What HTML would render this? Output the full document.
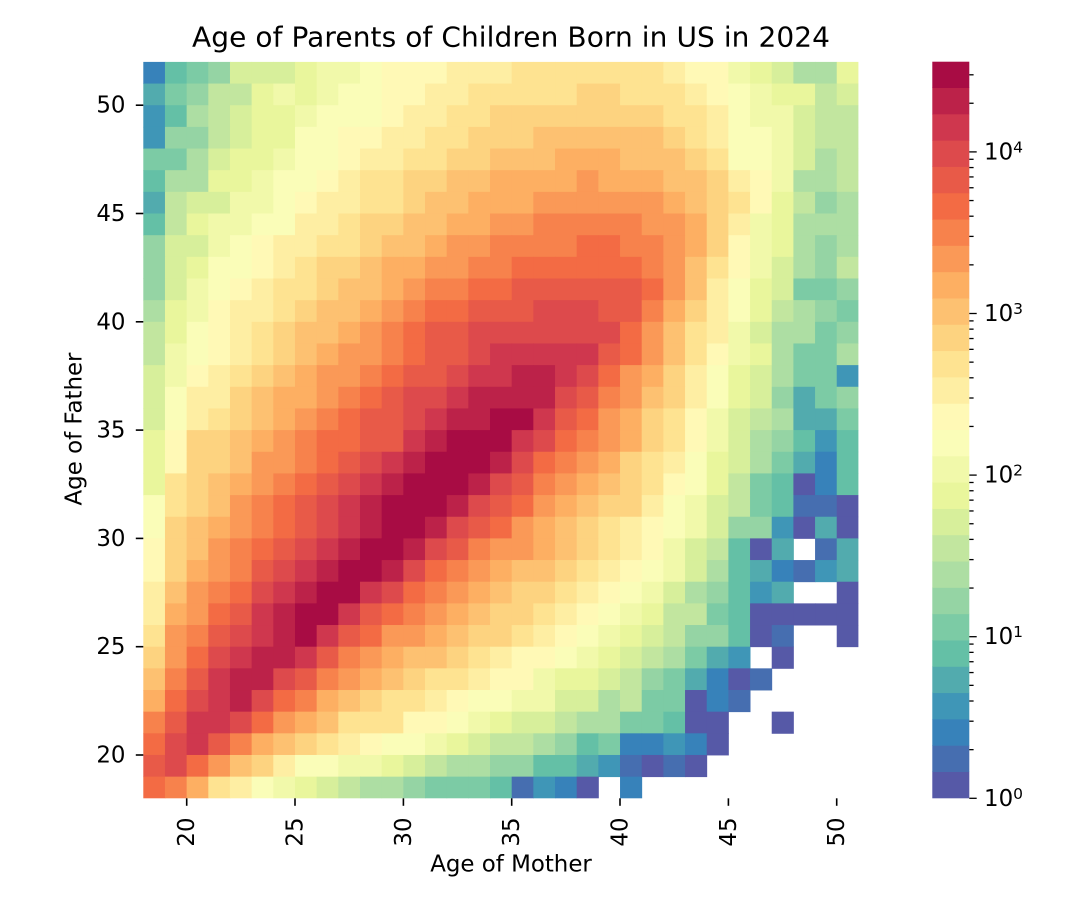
<!DOCTYPE html>
<html>
<head>
<meta charset="utf-8">
<style>
  html,body{margin:0;padding:0;background:#ffffff;}
  svg{display:block;}
  text{font-family:"DejaVu Sans","Liberation Sans",sans-serif;fill:#000;}
</style>
</head>
<body>
<svg id="chart" width="1080" height="900" viewBox="0 0 1080 900" xmlns="http://www.w3.org/2000/svg">
  <rect x="0" y="0" width="1080" height="900" fill="#ffffff"/>
  <g id="heat"></g>
  <g id="cbar"></g>

  <!-- title -->
  <text x="511" y="46.5" font-size="28" text-anchor="middle" textLength="638" lengthAdjust="spacing">Age of Parents of Children Born in US in 2024</text>

  <!-- x ticks -->
  <g stroke="#000" stroke-width="1.6">
    <line x1="186.7" y1="798.3" x2="186.7" y2="805.8"/>
    <line x1="295.0" y1="798.3" x2="295.0" y2="805.8"/>
    <line x1="403.4" y1="798.3" x2="403.4" y2="805.8"/>
    <line x1="511.7" y1="798.3" x2="511.7" y2="805.8"/>
    <line x1="620.0" y1="798.3" x2="620.0" y2="805.8"/>
    <line x1="728.4" y1="798.3" x2="728.4" y2="805.8"/>
    <line x1="836.7" y1="798.3" x2="836.7" y2="805.8"/>
  </g>
  <g font-size="22.9" text-anchor="middle">
    <text transform="translate(194.2,832) rotate(-90)">20</text>
    <text transform="translate(302.5,832) rotate(-90)">25</text>
    <text transform="translate(410.9,832) rotate(-90)">30</text>
    <text transform="translate(519.2,832) rotate(-90)">35</text>
    <text transform="translate(627.5,832) rotate(-90)">40</text>
    <text transform="translate(735.9,832) rotate(-90)">45</text>
    <text transform="translate(844.2,832) rotate(-90)">50</text>
  </g>
  <text x="511" y="871.5" font-size="22.9" text-anchor="middle">Age of Mother</text>

  <!-- y ticks -->
  <g stroke="#000" stroke-width="1.6">
    <line x1="135.8" y1="755.0" x2="143.3" y2="755.0"/>
    <line x1="135.8" y1="646.7" x2="143.3" y2="646.7"/>
    <line x1="135.8" y1="538.4" x2="143.3" y2="538.4"/>
    <line x1="135.8" y1="430.1" x2="143.3" y2="430.1"/>
    <line x1="135.8" y1="321.8" x2="143.3" y2="321.8"/>
    <line x1="135.8" y1="213.5" x2="143.3" y2="213.5"/>
    <line x1="135.8" y1="105.2" x2="143.3" y2="105.2"/>
  </g>
  <g font-size="22.9" text-anchor="end">
    <text x="125.5" y="762.5">20</text>
    <text x="125.5" y="654.2">25</text>
    <text x="125.5" y="545.9">30</text>
    <text x="125.5" y="437.6">35</text>
    <text x="125.5" y="329.3">40</text>
    <text x="125.5" y="221.0">45</text>
    <text x="125.5" y="112.7">50</text>
  </g>
  <text transform="translate(81.5,429) rotate(-90)" font-size="22.9" text-anchor="middle">Age of Father</text>

  <!-- colorbar ticks -->
  <g id="cbticks" stroke="#000" stroke-width="1.3"></g>
  <g font-size="22.9">
    <text x="984" y="805.8">10<tspan font-size="15.5" dy="-7">0</tspan></text>
    <text x="984" y="644.2">10<tspan font-size="15.5" dy="-7">1</tspan></text>
    <text x="984" y="482.6">10<tspan font-size="15.5" dy="-7">2</tspan></text>
    <text x="984" y="321.0">10<tspan font-size="15.5" dy="-7">3</tspan></text>
    <text x="984" y="159.4">10<tspan font-size="15.5" dy="-7">4</tspan></text>
  </g>
</svg>
<script>
(function(){
  var NS="http://www.w3.org/2000/svg";
  var cols=["#5659A7","#466EB0","#3782BA","#3F96B7","#52ABAE","#64C0A6","#7CCBA5","#95D4A4",
            "#ADDEA3","#C2E69F","#D7EF9B","#E9F69C","#F1F9AA","#FAFDB8","#FFF9B6","#FEEEA3",
            "#FEE391","#FDD380","#FDC171","#FDAF62","#FA9957","#F7824C","#F36B44","#E85A48",
            "#DD4A4C","#CF374E","#BC2249","#A80C44"];
  var rows=[
  "2567aaabccd"+"eeefffggggg"+"ggfeecba88b",
  "46799bcbcdd"+"eeffggggghh"+"gggfedcbb9a",
  "3589abbcddd"+"effgghhhhhh"+"hhggfdcca99",
  "3779abbddee"+"ffgghhhiiii"+"iihgfddca99",
  "668abbcddef"+"fgghhiiijjj"+"iiihgddca89",
  "588bbcddefg"+"ghhiijjjjkj"+"jjiihfec889",
  "49aaccdeffg"+"ghiijjjkkkk"+"kkjihgeb978",
  "59bccddffgh"+"hiijjkkllll"+"lkkjhfcb888",
  "7aacdeffggh"+"iijkkllllmm"+"llkjhecb878",
  "7abddefghhi"+"jjkkllmmmmm"+"mlkigeca879",
  "7acdefgghii"+"jkllmmnnnnn"+"nmkifdba667",
  "8bceffghiij"+"klmmnnnooon"+"nljhfdb9876",
  "9bdefghiijk"+"lmnnooooooo"+"mkigfca8867",
  "9cdefghijkk"+"lmnnopppppn"+"mkigecb8668",
  "acefghijkkl"+"mnnoppqqpom"+"kjhfdba8663",
  "adffhijjklm"+"noopqqqqonl"+"kihfdba7467",
  "adfghijklmn"+"nopqqrrpnmk"+"jhgeca98446",
  "behhijklmmn"+"npqrrrpomlk"+"jhgeca87535",
  "behhikklmno"+"pqrrrqomlkj"+"hgfdba86425",
  "bghijklmnop"+"qrrrqonlkji"+"hgedb965025",
  "dghiklmnopq"+"rrrqonmkjih"+"hfdca965110",
  "dhijklmnopq"+"rrqonmkjihg"+"fedca773040",
  "ehiklmnopqr"+"rqonlkkjihg"+"feca9504.14",
  "ehjklnopqrr"+"qomlkjiihgf"+"edca8542134",
  "fiklmopqrrp"+"omlkjihhgfe"+"dca87534..0",
  "fjkmnpqrrpn"+"mlkjihhgfed"+"cb996500000",
  "gklnopqrpnm"+"kkjihhgfedc"+"ba977501..0",
  "hkmopqqpnlk"+"jiihgfeedcb"+"a98643.0...",
  "ilnpqqonlkj"+"ihggfeecbba"+"9764201....",
  "jmopqomljih"+"ggfeddccaa8"+"966021.....",
  "lnppomkjigg"+"geedcbaa988"+"66500..0...",
  "mopnljihgfe"+"ddcba998756"+"22320......",
  "nomkihfddcc"+"ba988775543"+"1010.......",
  "mljgfdcba98"+"8766651320."+"2.........."
  ];
  var heat=document.getElementById("heat");
  var x0=143.3, cw=715.1/33, y0=61.9, chh=736.4/34;
  for(var r=0;r<rows.length;r++){
    var s=rows[r];
    for(var c=0;c<s.length;c++){
      var ch=s.charAt(c);
      if(ch==="."||ch===" ")continue;
      var k=parseInt(ch,36);
      var re=document.createElementNS(NS,"rect");
      var x=x0+c*cw, y=y0+r*chh;
      var w=(c===s.length-1)?cw:cw+0.45;
      var h=(r===rows.length-1)?chh:chh+0.45;
      re.setAttribute("x",x.toFixed(2));
      re.setAttribute("y",y.toFixed(2));
      re.setAttribute("width",w.toFixed(2));
      re.setAttribute("height",h.toFixed(2));
      re.setAttribute("fill",cols[k]);
      heat.appendChild(re);
    }
  }
  // colorbar
  var cb=document.getElementById("cbar");
  var cbx=932.3, cbw=37.0, cbTop=61.7, cbBot=798.3, n=28;
  var bh=(cbBot-cbTop)/n;
  for(var i=0;i<n;i++){
    var re2=document.createElementNS(NS,"rect");
    var yb=cbBot-(i+1)*bh;
    re2.setAttribute("x",cbx);
    re2.setAttribute("y",(yb-(i<n-1?0.4:0)).toFixed(2));
    re2.setAttribute("width",cbw);
    re2.setAttribute("height",(bh+(i<n-1?0.4:0)).toFixed(2));
    re2.setAttribute("fill",cols[i]);
    cb.appendChild(re2);
  }
  // colorbar ticks
  var tk=document.getElementById("cbticks");
  var dec=161.6;
  function addTick(v,len){
    var y=cbBot-Math.log10(v)*dec;
    if(y<cbTop-0.5)return;
    var l=document.createElementNS(NS,"line");
    l.setAttribute("x1",cbx+cbw);
    l.setAttribute("x2",cbx+cbw+len);
    l.setAttribute("y1",y.toFixed(2));
    l.setAttribute("y2",y.toFixed(2));
    tk.appendChild(l);
  }
  for(var d=0;d<=4;d++){
    addTick(Math.pow(10,d),7.4);
    for(var m=2;m<=9;m++){addTick(m*Math.pow(10,d),4.3);}
  }
})();
</script>
</body>
</html>
